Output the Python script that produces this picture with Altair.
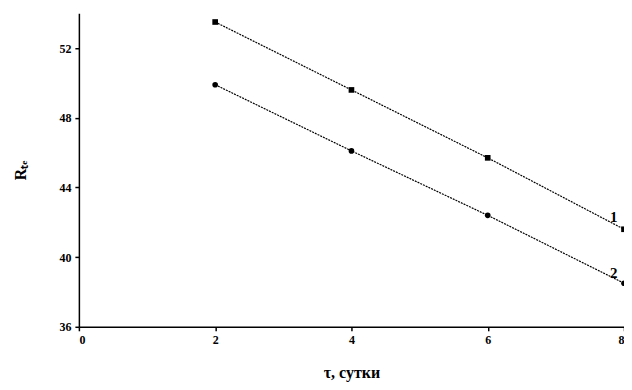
import altair as alt
import pandas as pd

days = [2, 4, 6, 8]
series1 = [53.5, 49.6, 45.7, 41.6]
series2 = [49.9, 46.1, 42.4, 38.5]
labels = ["1", "2"]
label_x = [7.85, 7.85]
label_y = [42.3, 39.1]

df = pd.DataFrame({
    "x": days * 2,
    "y": series1 + series2,
    "s": ["1"] * 4 + ["2"] * 4,
})
lab = pd.DataFrame({"x": label_x, "y": label_y, "t": labels})

xs = alt.Scale(domain=[0, 8], nice=False)
ys = alt.Scale(domain=[36, 54], nice=False, zero=False)

xax = alt.Axis(values=[0, 2, 4, 6, 8], title="τ, сутки", grid=False, format="d")
yax = alt.Axis(values=[36, 40, 44, 48, 52], title="Rₜₑ", grid=False, format="d")

lines = alt.Chart(df).mark_line(color="black", strokeWidth=1.2, strokeDash=[2, 1]).encode(
    x=alt.X("x:Q", scale=xs, axis=xax),
    y=alt.Y("y:Q", scale=ys, axis=yax),
    detail="s:N",
)
points = alt.Chart(df).mark_point(filled=True, color="black", opacity=1, size=32).encode(
    x=alt.X("x:Q", scale=xs),
    y=alt.Y("y:Q", scale=ys),
    shape=alt.Shape("s:N", scale=alt.Scale(domain=["1", "2"], range=["square", "circle"]), legend=None),
)
text = alt.Chart(lab).mark_text(font="Liberation Serif", fontSize=15, fontWeight="bold", color="black").encode(
    x=alt.X("x:Q", scale=xs),
    y=alt.Y("y:Q", scale=ys),
    text="t:N",
)

chart = alt.layer(lines, points, text).properties(
    width=546, height=314,
    autosize=alt.AutoSizeParams(type="none"),
    padding={"left": 71, "top": 5, "right": 0, "bottom": 55},
).configure_view(stroke=None).configure_axis(
    domainColor="black", domainWidth=1.5, tickColor="black", tickWidth=1.5, tickSize=4,
    labelFont="Liberation Serif", labelFontSize=12, labelFontWeight="bold", labelColor="black",
    titleFont="Liberation Serif", titleFontSize=16, titleFontWeight="bold", titleColor="black",
    labelPadding=4,
).configure_axisX(titlePadding=19).configure_axisY(titlePadding=30)

chart.save("out.html", embed_options={"renderer": "svg", "actions": False})
